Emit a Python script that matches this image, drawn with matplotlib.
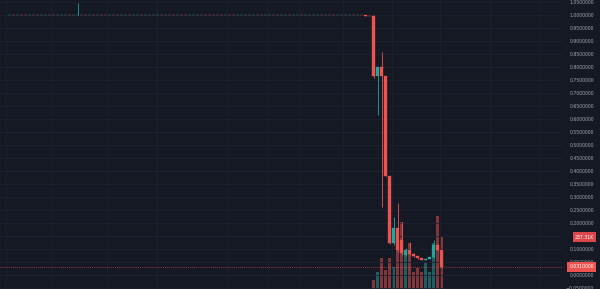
import matplotlib
matplotlib.use("Agg")
import matplotlib.pyplot as plt
from matplotlib.transforms import blended_transform_factory

# ---------------- data ----------------
flat_closes = [
    1.0002, 0.9999, 1.0003, 1.0001, 0.9998, 1.0002, 1.0000, 0.9997, 1.0001, 1.0004,
    0.9999, 1.0002, 0.9998, 1.0001, 1.0003, 0.9999, 1.0000, 1.0010, 1.0002, 0.9998,
    1.0001, 0.9999, 1.0003, 1.0000, 0.9998, 1.0002, 1.0001, 0.9997, 1.0000, 1.0002,
    0.9999, 1.0001, 1.0003, 0.9998, 1.0000, 1.0002, 0.9999, 1.0001, 0.9998, 1.0002,
    1.0000, 0.9999, 1.0003, 1.0001, 0.9998, 1.0000, 1.0002, 0.9999, 1.0001, 1.0000,
    0.9998, 1.0002, 1.0001, 0.9999, 1.0003, 1.0000, 0.9998, 1.0001, 1.0002, 0.9999,
    1.0000, 1.0003, 0.9998, 1.0001, 0.9999, 1.0002, 1.0000, 0.9997, 1.0001, 1.0002,
    0.9999, 1.0000, 1.0002, 0.9998, 1.0001, 1.0003, 0.9999, 1.0000, 0.9998, 1.0002,
    1.0001, 0.9999, 1.0000, 1.0002, 0.9998, 1.0001, 0.9999, 1.0000, 0.9996, 0.9960, 0.9950,
]
flat_first_open = 1.0000
flat_spike_highs = {17: 1.046}

post_opens = [0.995, 0.765, 0.800, 0.765, 0.381, 0.123, 0.181, 0.135, 0.077,
              0.096, 0.081, 0.073, 0.065, 0.058, 0.062, 0.069, 0.115, 0.096]
post_highs = [1.000, 0.800, 0.858, 0.765, 0.381, 0.223, 0.277, 0.204, 0.104,
              0.127, 0.083, 0.075, 0.067, 0.064, 0.071, 0.135, 0.120, 0.098]
post_lows = [0.758, 0.615, 0.262, 0.381, 0.120, 0.115, 0.088, 0.077, 0.073,
             0.077, 0.071, 0.063, 0.056, 0.056, 0.060, 0.066, 0.092, 0.027]
post_closes = [0.765, 0.800, 0.765, 0.381, 0.123, 0.181, 0.096, 0.085, 0.096,
               0.081, 0.073, 0.065, 0.058, 0.062, 0.069, 0.115, 0.096, 0.031]
post_volumes_k = [41, 78, 141, 87, 141, 100, 223, 305, 155,
                  210, 78, 96, 78, 123, 78, 210, 333, 237.31]
volume_label = "237.31K"

price_ticks = [1.05, 1.00, 0.95, 0.90, 0.85, 0.80, 0.75, 0.70, 0.65, 0.60, 0.55,
               0.50, 0.45, 0.40, 0.35, 0.30, 0.25, 0.20, 0.15, 0.10, 0.05, 0.00, -0.05]
hidden_tick_labels = [0.15]
time_grid = [-0.9, 10.6, 24.4, 36.9, 54.4, 64.6, 72.6, 83.4, 95.5, 107.6, 120.0, 132.6]

# ---------------- assemble ----------------
n_flat = len(flat_closes)
opens = [flat_first_open] + flat_closes[:-1] + post_opens
closes = flat_closes + post_closes
highs = [max(o, c) for o, c in zip(opens[:n_flat], flat_closes)] + post_highs
lows = [min(o, c) for o, c in zip(opens[:n_flat], flat_closes)] + post_lows
for k, v in flat_spike_highs.items():
    highs[k] = v
idx = list(range(len(closes)))
vol_idx = list(range(n_flat, n_flat + len(post_volumes_k)))

BG = "#151924"
GRID = "#1e2231"
UP = "#26a69a"
DOWN = "#ef5350"
TXT = "#a3a6af"

fig = plt.figure(figsize=(6, 2.89), dpi=100)
fig.patch.set_facecolor(BG)
ax = fig.add_axes([0, 0, 562 / 600, 1])
axv = ax.twinx()
ax.set_zorder(axv.get_zorder() + 1)
ax.patch.set_visible(False)
axv.set_facecolor(BG)

# volume
vcols = [UP if post_closes[i] >= post_opens[i] else DOWN for i in range(len(post_closes))]
axv.bar(vol_idx, post_volumes_k, width=0.8, color=vcols, alpha=0.5, linewidth=0)
axv.set_ylim(0, 1319)
axv.set_yticks([])
for s in axv.spines.values():
    s.set_visible(False)

# candles
cols = [UP if c >= o else DOWN for o, c in zip(opens, closes)]
ax.vlines(idx, lows, highs, colors=cols, linewidth=0.6, zorder=3)
bottoms = [min(o, c) for o, c in zip(opens, closes)]
heights = [abs(c - o) for o, c in zip(opens, closes)]
ax.bar(idx, heights, bottom=bottoms, width=0.6, color=cols, edgecolor=cols,
       linewidth=0.25, zorder=4)

last = closes[-1]
ax.axhline(last, color=DOWN, linestyle=(0, (1, 1.5)), linewidth=0.6, alpha=0.8, zorder=2)

ax.set_xlim(-2.375, 138.1)
ax.set_ylim(-0.0538, 1.0577)
ax.set_xticks(time_grid)
ax.tick_params(axis="x", length=0, labelbottom=False)
ax.grid(True, color=GRID, linewidth=0.6, zorder=0)
ax.yaxis.tick_right()
ax.set_yticks(price_ticks)
ax.set_yticklabels(["" if t in hidden_tick_labels else f"{t:.7f}".replace("-", "\u2212")
                    for t in price_ticks])
ax.tick_params(axis="y", length=0, pad=23, labelsize=3.3, labelcolor=TXT)
for lbl in ax.get_yticklabels():
    lbl.set_horizontalalignment("right")
for s in ax.spines.values():
    s.set_visible(False)

# axis value labels
tr_price = blended_transform_factory(ax.transAxes, ax.transData)
ax.text(594 / 562, last, f"{last:.7f}", transform=tr_price, ha="right", va="center",
        fontsize=3.3, color="white", clip_on=False, zorder=10,
        bbox=dict(boxstyle="square,pad=0.45", fc=DOWN, ec="none"))
tr_vol = blended_transform_factory(ax.transAxes, axv.transData)
ax.text(594 / 562, post_volumes_k[-1], volume_label, transform=tr_vol, ha="right",
        va="center", fontsize=3.3, color="white", clip_on=False, zorder=10,
        bbox=dict(boxstyle="square,pad=0.45", fc="#d9474c", ec="none"))

fig.savefig("out.png", dpi=100, facecolor=BG)
